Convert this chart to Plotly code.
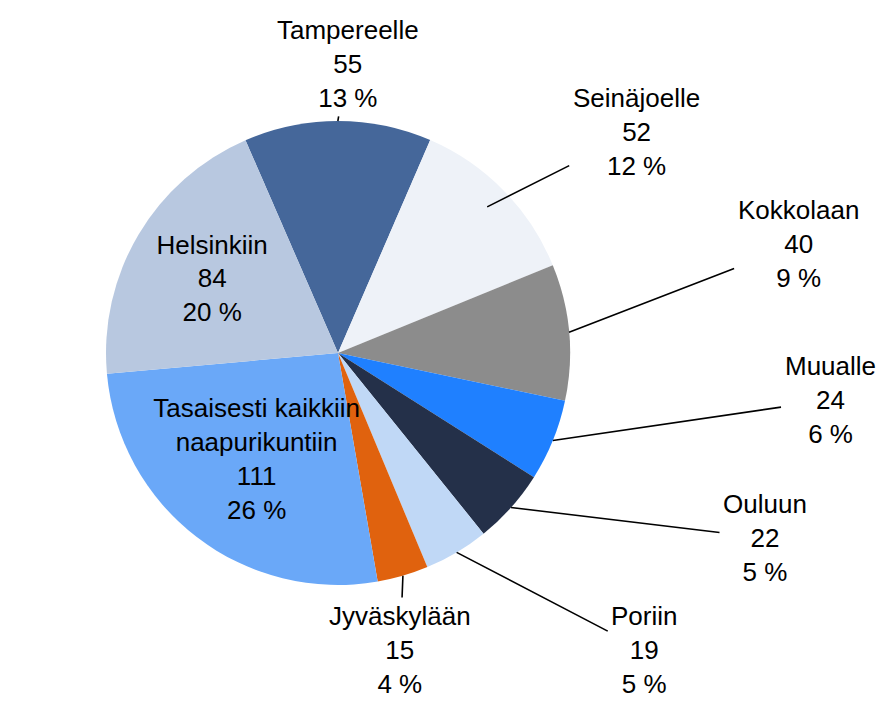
import numpy as np
import plotly.graph_objects as go

labels = ["Tampereelle", "Seinäjoelle", "Kokkolaan", "Muualle", "Ouluun",
          "Poriin", "Jyväskylään", "Tasaisesti kaikkiin<br>naapurikuntiin", "Helsinkiin"]
values = [55, 52, 40, 24, 22, 19, 15, 111, 84]
percent_labels = ["13 %", "12 %", "9 %", "6 %", "5 %", "5 %", "4 %", "26 %", "20 %"]
colors = ["#45679a", "#eef2f8", "#8c8c8c", "#1f80ff", "#243049",
          "#c0d8f6", "#e0620e", "#6aa8f8", "#b8c8e0"]
inside = [False] * 7 + [True, True]

W, H = 888, 704
FONT = dict(family="Arial, Liberation Sans, sans-serif", size=26, color="#000000")

# pie geometry (pixels)
cx, cy, R = 330, 345, 232
rotation = -23.5

# outside label positions (layout, pixels: centre of text block)
label_pos = {
    "Tampereelle": (340, 56),
    "Seinäjoelle": (628, 124),
    "Kokkolaan": (790, 236),
    "Muualle": (822, 392),
    "Ouluun": (757, 530),
    "Poriin": (636, 642),
    "Jyväskylään": (392, 642),
}
anchor_r = {"Seinäjoelle": 0.9}

fig = go.Figure(go.Pie(
    labels=labels,
    values=values,
    customdata=percent_labels,
    sort=False,
    direction="clockwise",
    rotation=rotation,
    marker=dict(colors=colors, line=dict(width=0)),
    textposition=["inside" if s else "none" for s in inside],
    texttemplate=["%{label}<br>%{value}<br>%{customdata}" if s else "" for s in inside],
    insidetextorientation="horizontal",
    textfont=FONT,
    domain=dict(x=[(cx - R) / W, (cx + R) / W], y=[1 - (cy + R) / H, 1 - (cy - R) / H]),
    showlegend=False,
    hoverinfo="label+value",
))

# leader-line anchors derived from the data (mid-angle of each slice)
vals = np.array(values, dtype=float)
cum = np.cumsum(vals) - vals / 2
mid_deg = rotation + cum / vals.sum() * 360.0
for i, lab in enumerate(labels):
    if inside[i]:
        continue
    a = np.deg2rad(mid_deg[i])
    r = R * anchor_r.get(lab, 1.0)
    px = cx + r * np.sin(a)
    py = cy - r * np.cos(a)
    lx, ly = label_pos[lab]
    fig.add_annotation(
        x=px / W, y=1 - py / H, xref="paper", yref="paper",
        ax=lx - px, ay=ly - py, axref="pixel", ayref="pixel",
        text=f"{lab}<br>{values[i]}<br>{percent_labels[i]}",
        showarrow=True, arrowhead=0, arrowwidth=1.6, arrowcolor="#000000",
        standoff=0, startstandoff=2,
        font=FONT, align="center",
    )

fig.update_layout(
    width=W, height=H,
    margin=dict(l=0, r=0, t=0, b=0),
    paper_bgcolor="white",
    plot_bgcolor="white",
    uniformtext=dict(minsize=26, mode="show"),
)

fig.write_html("out.html")
